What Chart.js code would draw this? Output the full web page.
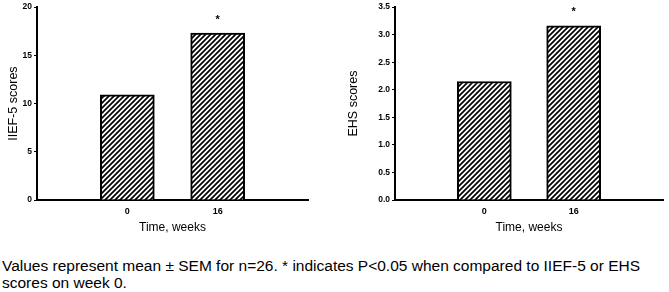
<!DOCTYPE html>
<html>
<head>
<meta charset="utf-8">
<script src="https://cdn.jsdelivr.net/npm/chart.js@4"></script>
<style>
  body { margin: 0; background: #fff; width: 669px; height: 292px; overflow: hidden; position: relative; }
  .wrap { position: absolute; top: 0; height: 240px; }
  #caption { position: absolute; left: 2px; top: 257px; font-family: Arial, "Liberation Sans", sans-serif; font-size: 15.5px; line-height: 17px; color: #000; white-space: nowrap; }
</style>
</head>
<body>
<div class="wrap" style="left:0;width:330px"><canvas id="c1"></canvas></div>
<div class="wrap" style="left:340px;width:329px"><canvas id="c2"></canvas></div>
<div id="caption">Values represent mean ± SEM for n=26. * indicates P&lt;0.05 when compared to IIEF-5 or EHS<br>scores on week 0.</div>
<script>
const weeks = ['0', '16'];
const iiefScores = [10.9, 17.3];
const ehsScores = [2.15, 3.16];
const stars = ['', '*'];

// blank slots either side so the bars sit at 1/3 and 2/3 of the axis
const labels = ['', ...weeks, ''];
const pad = arr => [null, ...arr, null];

const hatch = () => {
    const c = document.createElement('canvas');
    c.width = 5; c.height = 5;
    const g = c.getContext('2d');
    g.fillStyle = '#fff';
    g.fillRect(0, 0, 5, 5);
    g.strokeStyle = '#000';
    g.lineWidth = 1.7;
    g.beginPath();
    g.moveTo(-1, 6); g.lineTo(6, -1);
    g.moveTo(-1, 1); g.lineTo(1, -1);
    g.moveTo(4, 6); g.lineTo(6, 4);
    g.stroke();
    return g.createPattern(c, 'repeat');
};

const starPlugin = {
    id: 'stars',
    afterDatasetsDraw(chart) {
        const ctx = chart.ctx;
        const meta = chart.getDatasetMeta(0);
        ctx.save();
        ctx.fillStyle = '#000';
        ctx.font = 'bold 11px Arial';
        ctx.textAlign = 'center';
        ctx.textBaseline = 'top';
        meta.data.forEach((el, i) => {
            const s = stars[i - 1];
            if (s) ctx.fillText(s, el.x, el.y - 19);
        });
        ctx.restore();
    }
};

const makeChart = (id, values, yTitle, max, step, digits, yWidth, padRight) => {
    new Chart(document.getElementById(id), {
        type: 'bar',
        data: {
            labels: labels,
            datasets: [{
                data: pad(values),
                backgroundColor: hatch(),
                borderColor: '#000',
                borderWidth: 2,
                barThickness: 54
            }]
        },
        options: {
            responsive: true,
            maintainAspectRatio: false,
            animation: false,
            layout: { padding: { top: 5, right: padRight, left: 0, bottom: 0 } },
            plugins: { legend: { display: false }, tooltip: { enabled: false } },
            scales: {
                x: {
                    offset: false,
                    grid: { display: false, drawTicks: false },
                    border: { display: true, color: '#000', width: 2 },
                    ticks: {
                        padding: 6,
                        color: '#000',
                        font: { family: 'Arial', size: 9, weight: 'bold' },
                        autoSkip: false,
                        maxRotation: 0
                    },
                    title: {
                        display: true,
                        text: 'Time, weeks',
                        color: '#000',
                        font: { family: 'Arial', size: 12 },
                        padding: { top: 5, bottom: 5 }
                    },
                    afterFit: s => { s.height = 40; }
                },
                y: {
                    min: 0,
                    max: max,
                    grid: { drawOnChartArea: false, tickLength: 3, color: '#000', lineWidth: 1 },
                    border: { display: true, color: '#000', width: 2 },
                    ticks: {
                        stepSize: step,
                        padding: 2,
                        color: '#000',
                        font: { family: 'Arial', size: 8.5, weight: 'bold' },
                        callback: v => v.toFixed(digits)
                    },
                    title: {
                        display: true,
                        text: yTitle,
                        color: '#000',
                        font: { family: 'Arial', size: 12.5 },
                        padding: { top: 6, bottom: 0 }
                    },
                    afterFit: s => { s.width = yWidth; }
                }
            }
        },
        plugins: [starPlugin]
    });
};

makeChart('c1', iiefScores, 'IIEF-5 scores', 20, 5, 0, 37, 22);
makeChart('c2', ehsScores, 'EHS scores', 3.5, 0.5, 1, 55, 4);
</script>
</body>
</html>
